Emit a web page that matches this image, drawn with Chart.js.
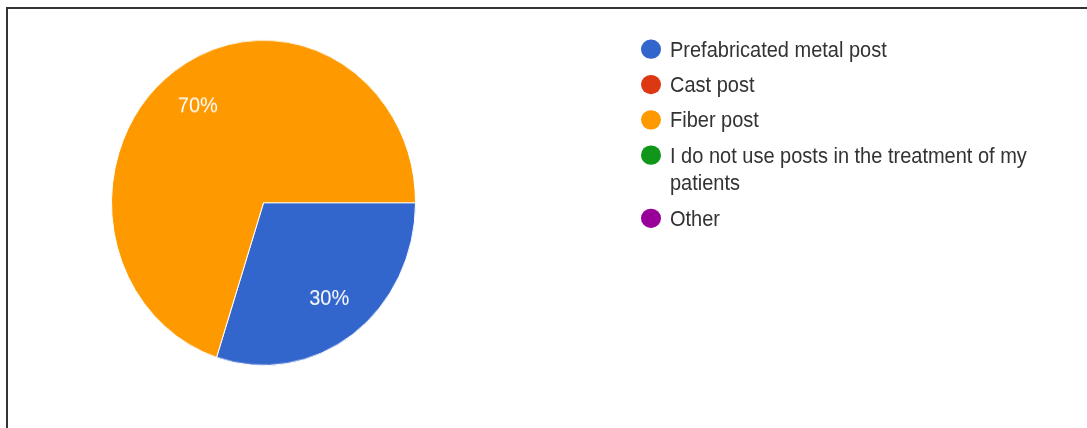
<!DOCTYPE html>
<html>
<head>
<meta charset="utf-8">
<script src="https://cdn.jsdelivr.net/npm/chart.js@4.4.1/dist/chart.umd.min.js"></script>
<style>
  html, body { margin: 0; padding: 0; background: #fff; }
  #page { position: relative; width: 1087px; height: 428px; overflow: hidden; }
  #frame { position: absolute; left: 6px; top: 7px; width: 1100px; height: 440px;
           border-top: 2px solid #333; border-left: 2px solid #333; }
  /* the source image is a bit taller than wide, so stretch the drawing the same way */
  #wrap { position: absolute; left: 0; top: 0; width: 1087px; height: 400px;
          transform: scaleY(1.07); transform-origin: 0 0; }
  #pieChart { position: absolute; left: 0; top: 0; }
  #legend { position: absolute; left: 641px; top: 33px; width: 440px;
            font-family: "Liberation Sans", Arial, sans-serif; font-size: 20px; color: #333; }
  .item { display: flex; align-items: flex-start; margin-bottom: 7px; line-height: 26px; }
  .dot { flex: none; width: 20px; height: 18.7px; border-radius: 50%; margin-top: 3.7px; margin-right: 9px; }
  .txt { width: 375px; }
</style>
</head>
<body>
<div id="page">
  <div id="frame"></div>
  <div id="wrap">
    <canvas id="pieChart" width="1087" height="400"></canvas>
    <div id="legend"></div>
  </div>
</div>
<script>
var labels = ['Prefabricated metal post', 'Cast post', 'Fiber post', 'I do not use posts in the treatment of my patients', 'Other'];
var values = [30, 0, 70, 0, 0];
var colors = ['#3366cc', '#dc3912', '#ff9900', '#109618', '#990099'];

// html legend, built from the same arrays
function build_legend() {
    var box = document.getElementById('legend');
    for (let i = 0; i < labels.length; i++) {
        var row = document.createElement('div');
        row.className = 'item';
        row.innerHTML = '<span class="dot" style="background:' + colors[i] + '"></span><span class="txt">' + labels[i] + '</span>';
        box.appendChild(row);
    }
}

// white percentage text inside the slices
var pctLabels = {
    id: 'pctLabels',
    afterDatasetsDraw(chart) {
        var ctx = chart.ctx;
        var meta = chart.getDatasetMeta(0);
        var total = values.reduce((a, b) => a + b, 0);
        ctx.save();
        ctx.fillStyle = '#ffffff';
        ctx.font = '20px "Liberation Sans", Arial, sans-serif';
        ctx.textAlign = 'center';
        ctx.textBaseline = 'middle';
        meta.data.forEach(function (arc, i) {
            if (!values[i]) return;
            var p = arc.getProps(['x', 'y', 'startAngle', 'endAngle', 'outerRadius'], true);
            var mid = (p.startAngle + p.endAngle) / 2;
            var r = p.outerRadius * 0.735;
            ctx.fillText(Math.round(values[i] / total * 100) + '%', p.x + Math.cos(mid) * r, p.y + Math.sin(mid) * r);
        });
        ctx.restore();
    }
};

function draw_chart() {
    var ctx = document.getElementById('pieChart');
    var chart = new Chart(ctx, {
        type: 'pie',
        data: {
            labels: labels,
            datasets: [{
                data: values,
                backgroundColor: colors,
                borderColor: '#ffffff',
                borderWidth: 1
            }]
        },
        options: {
            responsive: false,
            animation: false,
            rotation: 90,
            layout: { padding: { left: 111, right: 671, top: 37, bottom: 58 } },
            plugins: {
                legend: { display: false },
                tooltip: { enabled: false }
            }
        },
        plugins: [pctLabels]
    });
}

build_legend();
draw_chart();
</script>
</body>
</html>
